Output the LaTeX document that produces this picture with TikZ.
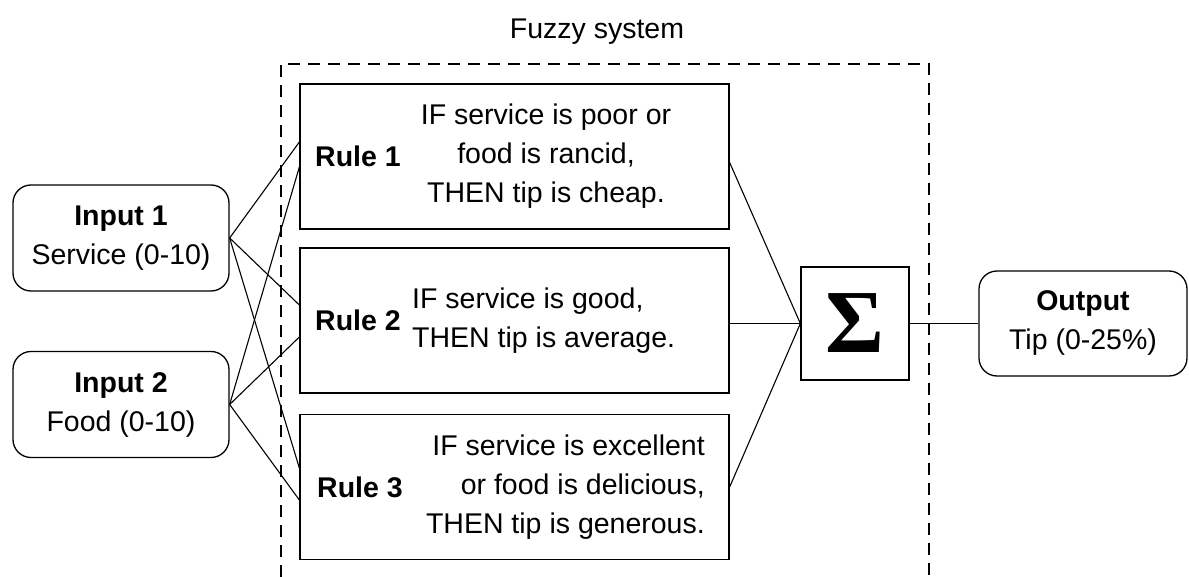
\documentclass[tikz,border=0pt]{standalone}
\usepackage{fontspec}
\setmainfont{Liberation Sans}
\newfontfamily\sigmafont{Liberation Serif}
\begin{document}
\begin{tikzpicture}[x=1pt,y=-1pt,
  every node/.style={font=\fontsize{28.5}{39}\selectfont, inner sep=0pt},
  iobox/.style={draw, line width=1.3pt, rounded corners=18pt, minimum width=216pt, minimum height=106pt, align=center},
  rulebox/.style={draw, line width=1.3pt, minimum width=429pt, minimum height=145pt},
  rulelbl/.style={font=\fontsize{28.5}{39}\selectfont\bfseries},
  sumbox/.style={draw, line width=1.3pt, minimum width=108pt, minimum height=113pt, font=\fontsize{90}{90}\sigmafont\bfseries},
  link/.style={line width=1.1pt},
  frame/.style={line width=1.3pt, dash pattern=on 12pt off 8pt}]
\useasboundingbox (0,0) rectangle (1189,577);
% title and dashed frame
\node[anchor=base] (title) at (597,39) {Fuzzy system};
\draw[frame] (281,577) -- (281,64) -- (929,64) -- (929,577);
% inputs
\node[iobox] (in1) at (121,238) {\textbf{Input 1}\\Service (0-10)};
\node[iobox] (in2) at (121,404.5) {\textbf{Input 2}\\Food (0-10)};
% rules
\node[rulebox] (r1) at (514.5,156.5) {};
\node[rulebox] (r2) at (514.5,320.5) {};
\node[rulebox] (r3) at (514.5,487) {};
\node[rulelbl] (l1) at (358,156.5) {Rule 1};
\node[rulelbl] (l2) at (358,320.5) {Rule 2};
\node[rulelbl] (l3) at (360,487) {Rule 3};
\node[align=center] (t1) at (546,156.5) {IF service is poor or\\food is rancid,\\THEN tip is cheap.};
\node[align=left, anchor=west] (t2) at (412,320.5) {IF service is good,\\THEN tip is average.};
\node[align=right, anchor=east] (t3) at (705,487) {IF service is excellent\\or food is delicious,\\THEN tip is generous.};
% sum and output
\node[sumbox] (sig) at (855,323.5) {Σ};
\node[iobox, minimum width=208pt, minimum height=105pt] (out) at (1083,323.5) {\textbf{Output}\\Tip (0-25\%)};
% connectors
\draw[link] (in1.east) -- ([yshift=14.5pt]r1.west);
\draw[link] (in2.east) -- ([yshift=-10.5pt]r1.west);
\draw[link] (in1.east) -- ([yshift=15.5pt]r2.west);
\draw[link] (in2.east) -- ([yshift=-16.5pt]r2.west);
\draw[link] (in1.east) -- ([yshift=19pt]r3.west);
\draw[link] (in2.east) -- ([yshift=-13pt]r3.west);
\draw[link] ([yshift=-6pt]r1.east) -- (sig.west);
\draw[link] ([yshift=-3pt]r2.east) -- (sig.west);
\draw[link] (r3.east) -- (sig.west);
\draw[link] (sig.east) -- (out.west);
\end{tikzpicture}
\end{document}
